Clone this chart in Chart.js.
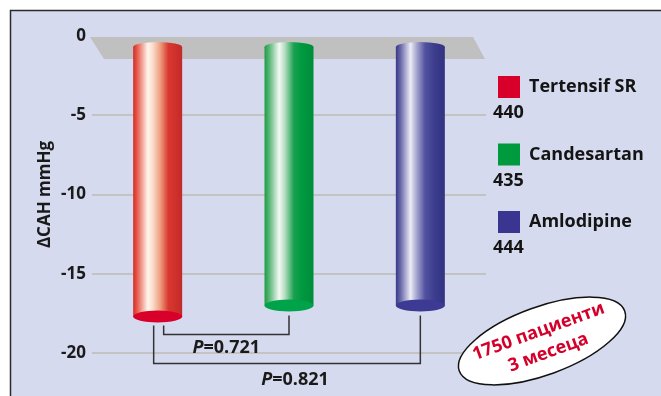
<!DOCTYPE html>
<html>
<head>
<meta charset="utf-8">
<script src="https://cdn.jsdelivr.net/npm/chart.js@4"></script>
<style>
html, body { margin: 0; padding: 0; background: #fff; }
</style>
</head>
<body>
<canvas id="bp-chart" width="661" height="396"></canvas>
<script>
// data
const drugs = ['Tertensif SR', 'Candesartan', 'Amlodipine'];
const patients = [440, 435, 444];
const deltaSBP = [-17.7, -17.0, -17.0];
const yTicks = [0, -5, -10, -15, -20];
const pComparisons = [[0, 1], [0, 2]];
const pValues = ['0.721', '0.821'];
const noteLines = ['1750 пациенти', '3 месеца'];

const FONT = "'Open Sans', 'DejaVu Sans', sans-serif";

// cylinder looks, one per bar
const cylStops = [
    [[0, '#d42a2a'], [0.08, '#e65a4a'], [0.3, '#fff6ee'], [0.4, '#fadccb'], [0.55, '#eea080'], [0.72, '#d8382f'], [1, '#c42a2a']],
    [[0, '#1e9a48'], [0.1, '#5ab878'], [0.3, '#f4faf4'], [0.42, '#b0dcbc'], [0.6, '#1aa050'], [0.75, '#009a40'], [1, '#008c3a']],
    [[0, '#383888'], [0.1, '#6a6aaa'], [0.3, '#ececf6'], [0.42, '#a8a8d0'], [0.6, '#5050a0'], [0.8, '#3c3c8c'], [1, '#323282']]
];
const capColors = ['#d8002a', '#00a24a', '#3c3a92'];
const legendColors = ['#d8002a', '#009a3e', '#3a3590'];

function cylGradient(ctx, left, right, stops) {
    const g = ctx.createLinearGradient(left, 0, right, 0);
    stops.forEach(s => g.addColorStop(s[0], s[1]));
    return g;
}

const decor = {
    id: 'decor',
    beforeDraw(chart) {
        const ctx = chart.ctx;
        ctx.save();
        ctx.fillStyle = '#ffffff';
        ctx.fillRect(0, 0, chart.width, chart.height);
        ctx.fillStyle = '#d6daee';
        ctx.fillRect(10, 10, chart.width - 10, chart.height - 10);
        ctx.strokeStyle = '#2b2b2b';
        ctx.lineWidth = 1.5;
        ctx.beginPath();
        ctx.moveTo(10.5, chart.height);
        ctx.lineTo(10.5, 10.5);
        ctx.lineTo(chart.width, 10.5);
        ctx.stroke();
        ctx.restore();
    },
    beforeDatasetsDraw(chart) {
        // grey floor at zero
        const {ctx, chartArea} = chart;
        const y0 = chart.scales.y.getPixelForValue(0);
        ctx.save();
        ctx.fillStyle = '#c0c0c0';
        ctx.beginPath();
        ctx.moveTo(chartArea.left - 2, y0 + 1);
        ctx.lineTo(chartArea.right - 13, y0 + 1);
        ctx.lineTo(chartArea.right - 1, y0 + 23);
        ctx.lineTo(chartArea.left + 12, y0 + 23);
        ctx.closePath();
        ctx.fill();
        ctx.restore();
    },
    afterDatasetsDraw(chart) {
        const ctx = chart.ctx;
        const meta = chart.getDatasetMeta(0);
        ctx.save();
        meta.data.forEach((bar, i) => {
            const {x, y, base, width} = bar.getProps(['x', 'y', 'base', 'width'], true);
            const left = x - width / 2;
            const rx = width / 2;
            const topY = base + 10;
            const grad = cylGradient(ctx, left, left + width, cylStops[i]);
            // body
            ctx.fillStyle = grad;
            ctx.fillRect(left, topY, width, y - topY);
            // top cap
            ctx.beginPath();
            ctx.ellipse(x, topY, rx, 5, 0, 0, Math.PI * 2);
            ctx.fill();
            // bottom face
            ctx.fillStyle = capColors[i];
            ctx.beginPath();
            ctx.ellipse(x, y, rx, 6, 0, 0, Math.PI * 2);
            ctx.fill();
        });

        // P value brackets
        ctx.strokeStyle = '#333';
        ctx.lineWidth = 1.5;
        ctx.fillStyle = '#1a1a1a';
        ctx.textBaseline = 'middle';
        pComparisons.forEach(([a, b], k) => {
            const ba = meta.data[a], bb = meta.data[b];
            const lineY = Math.max(ba.y, bb.y) + 18 + k * 29;
            const xa = ba.x + 6 - k * 10;
            const xb = bb.x;
            ctx.beginPath();
            ctx.moveTo(xa, ba.y + 9);
            ctx.lineTo(xa, lineY);
            ctx.lineTo(xb, lineY);
            ctx.lineTo(xb, bb.y + 10);
            ctx.stroke();

            const pFont = 'italic bold 18px ' + FONT;
            const restFont = 'bold 18px ' + FONT;
            const rest = '=' + pValues[k];
            ctx.font = pFont;
            const wp = ctx.measureText('P').width;
            ctx.font = restFont;
            const wr = ctx.measureText(rest).width;
            const cx = (xa + xb) / 2 + k * 8;
            const ty = lineY + 13 + k * 3;
            const tx = cx - (wp + wr) / 2;
            ctx.textAlign = 'left';
            ctx.font = pFont;
            ctx.fillText('P', tx, ty);
            ctx.font = restFont;
            ctx.fillText(rest, tx + wp, ty);
        });
        ctx.restore();
    },
    afterDraw(chart) {
        const {ctx, chartArea} = chart;
        ctx.save();
        // legend with patient numbers
        const lx = chartArea.right + 12;
        drugs.forEach((name, i) => {
            const top = 76 + i * 67.5;
            ctx.fillStyle = legendColors[i];
            ctx.fillRect(lx, top, 22, 22);
            ctx.fillStyle = '#141414';
            ctx.font = 'bold 18px ' + FONT;
            ctx.textBaseline = 'middle';
            ctx.textAlign = 'left';
            ctx.fillText(name, lx + 31, top + 11);
            ctx.fillText(String(patients[i]), lx - 5, top + 37);
        });

        // note in the ellipse
        ctx.translate(chartArea.right + 56, 341);
        ctx.rotate(-20 * Math.PI / 180);
        ctx.fillStyle = '#ffffff';
        ctx.strokeStyle = '#111';
        ctx.lineWidth = 1.5;
        ctx.beginPath();
        ctx.ellipse(0, 0, 88, 34, 0, 0, Math.PI * 2);
        ctx.fill();
        ctx.stroke();
        ctx.fillStyle = '#d4002a';
        ctx.font = 'bold 18px ' + FONT;
        ctx.textAlign = 'center';
        ctx.textBaseline = 'middle';
        ctx.fillText(noteLines[0], 0, -10);
        ctx.fillText(noteLines[1], 2, 13);
        ctx.restore();
    }
};

const chart = new Chart(document.getElementById('bp-chart').getContext('2d'), {
    type: 'bar',
    data: {
        labels: drugs,
        datasets: [{
            label: 'ΔCAH mmHg',
            data: deltaSBP,
            backgroundColor: 'rgba(0,0,0,0)',
            borderWidth: 0,
            barPercentage: 0.373,
            categoryPercentage: 1
        }]
    },
    options: {
        responsive: false,
        animation: false,
        devicePixelRatio: 1,
        layout: {
            padding: { left: 10, right: 175, top: 36, bottom: 43 }
        },
        plugins: {
            legend: { display: false },
            tooltip: { enabled: false }
        },
        scales: {
            x: { display: false },
            y: {
                min: -20,
                max: 0,
                afterBuildTicks: s => { s.ticks = yTicks.map(v => ({ value: v })); },
                afterFit: s => { s.width = 82; },
                border: { display: false },
                grid: {
                    drawTicks: false,
                    lineWidth: 2,
                    color: c => (c.tick && c.tick.value === 0) ? 'rgba(0,0,0,0)' : '#c3c3c3'
                },
                ticks: {
                    padding: 6,
                    color: '#1a1a1a',
                    font: { family: FONT, size: 17, weight: 'bold' }
                },
                title: {
                    display: true,
                    text: 'ΔCAH mmHg',
                    color: '#1a1a1a',
                    font: { family: FONT, size: 17, weight: 'bold' },
                    padding: { top: 25, bottom: 0 }
                }
            }
        }
    },
    plugins: [decor]
});
</script>
</body>
</html>
